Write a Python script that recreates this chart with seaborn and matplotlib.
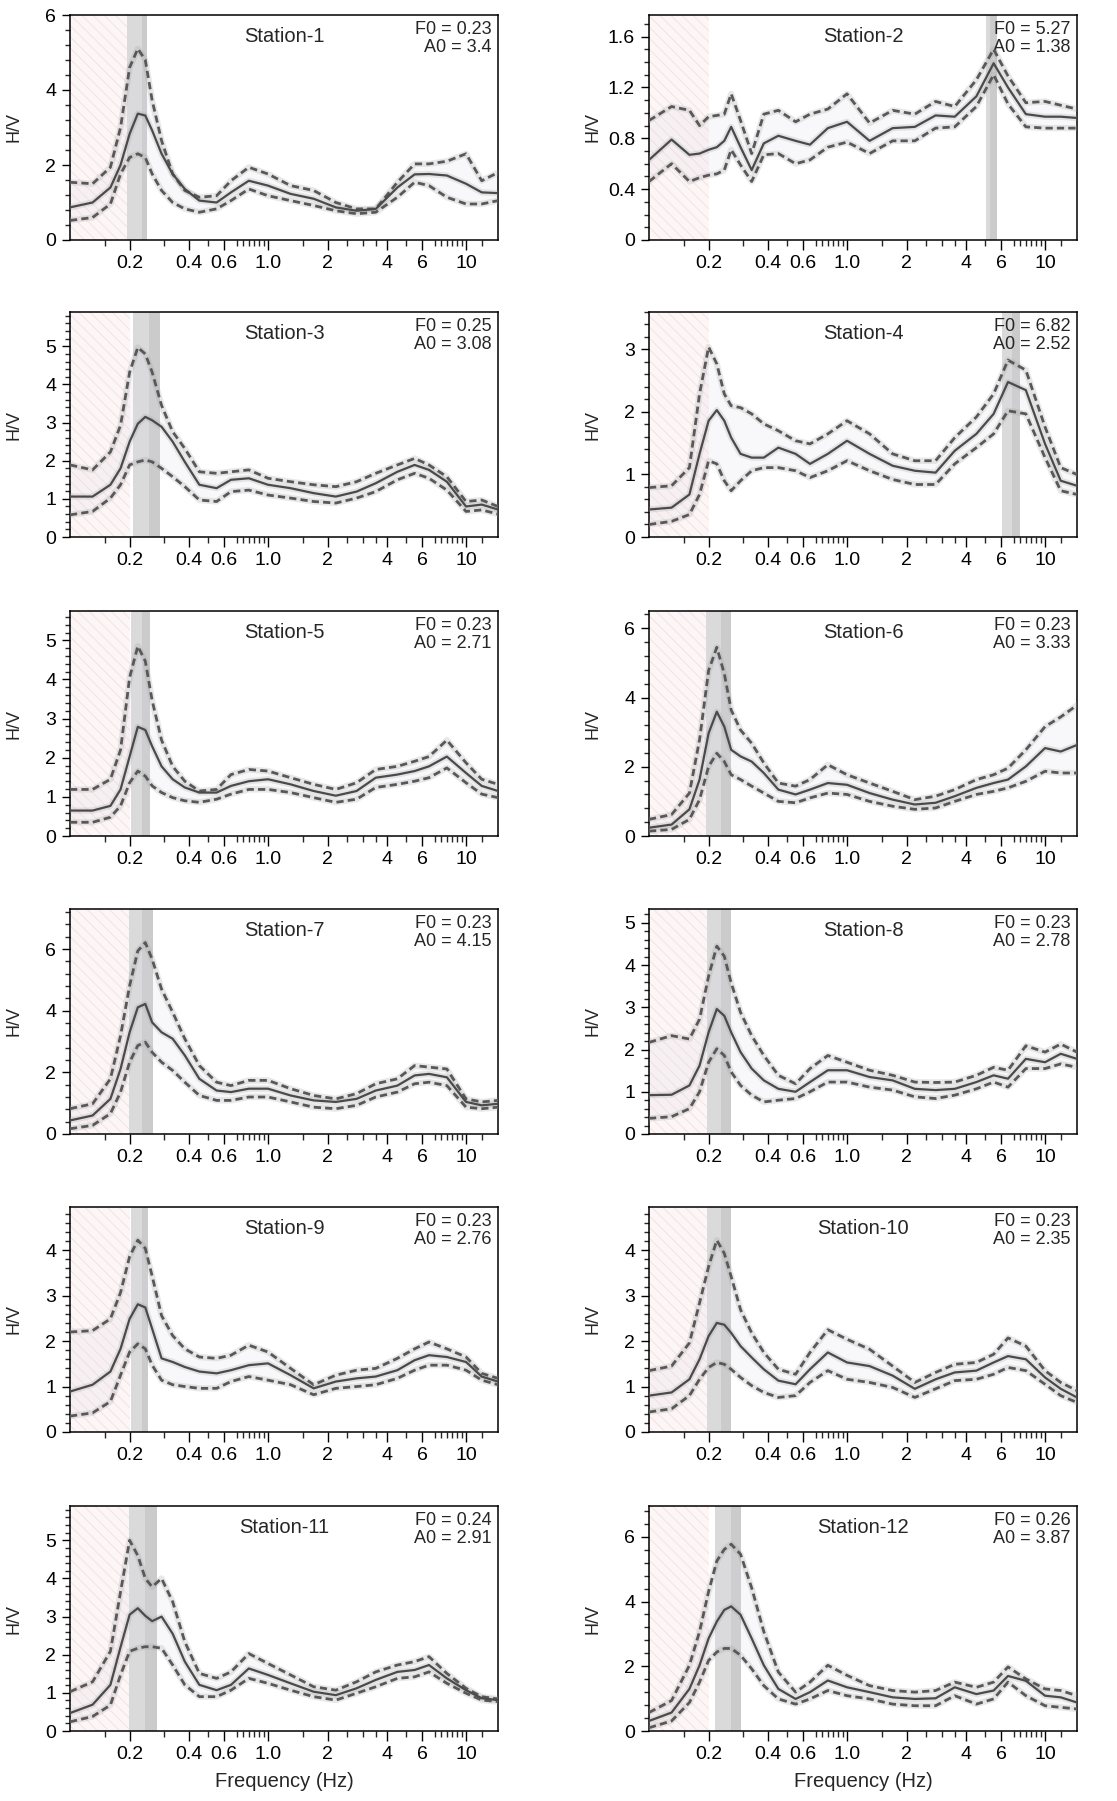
import matplotlib.pyplot as plt
from matplotlib.ticker import FixedLocator, FixedFormatter
import seaborn as sns

# frequency grid (Hz) shared by all stations
freq = [0.10, 0.13, 0.16, 0.18, 0.20, 0.22, 0.24, 0.26, 0.29, 0.33, 0.38, 0.45, 0.55, 0.65,
        0.80, 1.0, 1.3, 1.7, 2.2, 2.8, 3.5, 4.5, 5.5, 6.5, 8.0, 10.0, 12.0, 14.5]

# mean H/V curves and +/- std curves per station
s1_mean = [0.87, 1.0, 1.4, 2.0, 2.83, 3.37, 3.32, 2.92, 2.3, 1.76, 1.36, 1.05, 1.0, 1.27, 1.58, 1.45, 1.23, 1.1, 0.87, 0.78, 0.83, 1.4, 1.75, 1.76, 1.72, 1.5, 1.27, 1.25]
s1_up = [1.54, 1.5, 1.94, 3.0, 4.6, 5.1, 4.8, 3.72, 2.65, 1.76, 1.32, 1.14, 1.18, 1.58, 1.94, 1.76, 1.45, 1.32, 1.0, 0.83, 0.83, 1.54, 2.03, 2.03, 2.1, 2.3, 1.58, 1.8]
s1_lo = [0.52, 0.6, 0.96, 1.76, 2.2, 2.3, 2.2, 1.76, 1.32, 1.0, 0.83, 0.74, 0.83, 1.05, 1.36, 1.18, 1.05, 0.92, 0.78, 0.7, 0.74, 1.14, 1.54, 1.45, 1.14, 0.96, 0.96, 1.05]

s2_mean = [0.63, 0.79, 0.67, 0.68, 0.71, 0.73, 0.78, 0.89, 0.73, 0.55, 0.76, 0.82, 0.78, 0.75, 0.88, 0.93, 0.78, 0.88, 0.89, 0.98, 0.97, 1.13, 1.39, 1.2, 0.99, 0.97, 0.97, 0.96]
s2_up = [0.94, 1.05, 1.02, 0.9, 0.97, 0.98, 0.99, 1.15, 0.94, 0.68, 0.99, 1.02, 0.93, 0.99, 1.03, 1.15, 0.92, 1.02, 0.99, 1.09, 1.05, 1.26, 1.5, 1.29, 1.08, 1.09, 1.06, 1.03]
s2_lo = [0.46, 0.6, 0.46, 0.49, 0.51, 0.52, 0.55, 0.71, 0.59, 0.46, 0.67, 0.68, 0.6, 0.63, 0.73, 0.77, 0.68, 0.78, 0.78, 0.88, 0.89, 1.05, 1.3, 1.07, 0.89, 0.88, 0.88, 0.88]

s3_mean = [1.06, 1.06, 1.37, 1.8, 2.5, 2.97, 3.15, 3.06, 2.89, 2.5, 1.97, 1.37, 1.28, 1.5, 1.54, 1.37, 1.28, 1.15, 1.06, 1.19, 1.41, 1.71, 1.89, 1.76, 1.45, 0.8, 0.85, 0.72]
s3_up = [1.89, 1.76, 2.23, 2.93, 4.32, 4.97, 4.8, 4.32, 3.45, 2.76, 2.32, 1.71, 1.67, 1.71, 1.76, 1.54, 1.45, 1.37, 1.32, 1.45, 1.67, 1.89, 2.06, 1.89, 1.58, 0.93, 0.97, 0.8]
s3_lo = [0.58, 0.67, 1.02, 1.37, 1.89, 1.97, 2.02, 1.97, 1.8, 1.58, 1.32, 0.97, 0.93, 1.19, 1.23, 1.1, 1.02, 0.93, 0.89, 1.02, 1.19, 1.5, 1.67, 1.54, 1.23, 0.67, 0.71, 0.6]

s4_mean = [0.44, 0.47, 0.68, 1.33, 1.86, 2.03, 1.86, 1.59, 1.33, 1.27, 1.27, 1.43, 1.33, 1.17, 1.33, 1.54, 1.33, 1.14, 1.06, 1.03, 1.38, 1.65, 1.97, 2.48, 2.35, 1.49, 0.9, 0.82]
s4_up = [0.79, 0.82, 1.11, 2.29, 3.04, 2.77, 2.29, 2.1, 2.07, 1.97, 1.81, 1.7, 1.54, 1.49, 1.65, 1.86, 1.65, 1.33, 1.22, 1.22, 1.59, 1.92, 2.29, 2.83, 2.67, 1.76, 1.11, 1.0]
s4_lo = [0.2, 0.25, 0.36, 0.68, 1.22, 1.17, 0.9, 0.74, 0.9, 1.06, 1.11, 1.11, 1.06, 0.95, 1.06, 1.22, 1.06, 0.92, 0.84, 0.84, 1.17, 1.43, 1.65, 2.02, 1.97, 1.27, 0.74, 0.68]

s5_mean = [0.65, 0.65, 0.77, 1.19, 2.03, 2.79, 2.71, 2.29, 1.78, 1.45, 1.24, 1.11, 1.11, 1.28, 1.4, 1.45, 1.32, 1.15, 1.03, 1.15, 1.49, 1.57, 1.66, 1.78, 2.03, 1.61, 1.28, 1.15]
s5_up = [1.19, 1.19, 1.45, 2.2, 4.05, 4.85, 4.47, 3.46, 2.45, 1.78, 1.4, 1.15, 1.19, 1.57, 1.7, 1.66, 1.49, 1.32, 1.19, 1.36, 1.7, 1.78, 1.91, 2.03, 2.45, 1.87, 1.45, 1.32]
s5_lo = [0.35, 0.35, 0.48, 0.77, 1.36, 1.66, 1.53, 1.28, 1.11, 0.98, 0.9, 0.86, 0.94, 1.07, 1.19, 1.19, 1.11, 0.98, 0.86, 0.94, 1.24, 1.32, 1.4, 1.49, 1.74, 1.36, 1.07, 0.98]

s6_mean = [0.24, 0.33, 0.77, 1.63, 2.97, 3.59, 3.16, 2.49, 2.3, 2.15, 1.82, 1.34, 1.2, 1.34, 1.53, 1.48, 1.24, 1.05, 0.91, 0.96, 1.15, 1.39, 1.53, 1.63, 2.01, 2.54, 2.44, 2.63]
s6_up = [0.48, 0.62, 1.24, 2.78, 4.78, 5.45, 4.69, 3.64, 3.06, 2.68, 2.11, 1.53, 1.44, 1.63, 2.06, 1.77, 1.53, 1.29, 1.05, 1.15, 1.34, 1.63, 1.77, 1.96, 2.49, 3.16, 3.44, 3.78]
s6_lo = [0.14, 0.19, 0.48, 1.05, 2.01, 2.39, 2.15, 1.77, 1.63, 1.44, 1.24, 1.0, 0.96, 1.1, 1.24, 1.2, 1.0, 0.86, 0.77, 0.81, 1.0, 1.2, 1.29, 1.39, 1.58, 1.87, 1.82, 1.82]

s7_mean = [0.44, 0.6, 1.14, 2.11, 3.3, 4.11, 4.22, 3.62, 3.3, 3.09, 2.55, 1.79, 1.41, 1.36, 1.47, 1.47, 1.25, 1.09, 1.04, 1.14, 1.41, 1.57, 1.9, 1.95, 1.84, 1.04, 0.93, 0.98]
s7_up = [0.82, 0.98, 1.79, 3.19, 4.81, 5.94, 6.21, 5.67, 4.7, 3.95, 3.09, 2.22, 1.68, 1.57, 1.74, 1.74, 1.47, 1.25, 1.14, 1.31, 1.63, 1.79, 2.22, 2.17, 2.11, 1.14, 1.04, 1.09]
s7_lo = [0.17, 0.28, 0.66, 1.36, 2.33, 2.87, 2.98, 2.65, 2.33, 2.06, 1.68, 1.25, 1.09, 1.09, 1.2, 1.2, 1.04, 0.87, 0.82, 0.93, 1.2, 1.36, 1.63, 1.68, 1.57, 0.87, 0.82, 0.87]

s8_mean = [0.92, 0.93, 1.15, 1.62, 2.41, 2.96, 2.8, 2.41, 1.94, 1.55, 1.27, 1.07, 1.0, 1.23, 1.51, 1.51, 1.35, 1.27, 1.07, 1.04, 1.07, 1.23, 1.39, 1.31, 1.78, 1.7, 1.9, 1.78]
s8_up = [2.17, 2.33, 2.25, 2.72, 3.74, 4.45, 4.21, 3.58, 2.88, 2.33, 1.86, 1.39, 1.19, 1.55, 1.86, 1.7, 1.51, 1.39, 1.23, 1.22, 1.23, 1.39, 1.58, 1.51, 2.09, 1.94, 2.13, 1.94]
s8_lo = [0.37, 0.41, 0.6, 1.0, 1.7, 2.02, 1.86, 1.47, 1.15, 0.92, 0.76, 0.8, 0.84, 1.0, 1.23, 1.23, 1.11, 1.04, 0.88, 0.84, 0.92, 1.07, 1.23, 1.11, 1.55, 1.55, 1.66, 1.58]

s9_mean = [0.89, 1.04, 1.33, 1.83, 2.49, 2.81, 2.74, 2.27, 1.62, 1.54, 1.43, 1.33, 1.29, 1.36, 1.47, 1.51, 1.25, 0.96, 1.11, 1.18, 1.22, 1.36, 1.58, 1.69, 1.65, 1.54, 1.22, 1.11]
s9_up = [2.2, 2.23, 2.49, 3.07, 3.86, 4.22, 4.04, 3.43, 2.56, 2.12, 1.83, 1.65, 1.62, 1.69, 1.91, 1.76, 1.4, 1.04, 1.25, 1.36, 1.4, 1.62, 1.83, 1.98, 1.83, 1.65, 1.29, 1.18]
s9_lo = [0.35, 0.42, 0.67, 1.25, 1.76, 1.94, 1.83, 1.47, 1.14, 1.04, 1.0, 0.96, 0.96, 1.11, 1.22, 1.14, 1.04, 0.82, 0.96, 1.0, 1.04, 1.18, 1.36, 1.47, 1.47, 1.36, 1.14, 1.04]

s10_mean = [0.8, 0.87, 1.16, 1.6, 2.11, 2.4, 2.36, 2.18, 1.89, 1.64, 1.38, 1.13, 1.05, 1.38, 1.75, 1.53, 1.45, 1.24, 0.95, 1.16, 1.31, 1.35, 1.53, 1.67, 1.6, 1.2, 0.95, 0.76]
s10_up = [1.35, 1.45, 1.96, 2.84, 3.64, 4.22, 3.93, 3.42, 2.69, 2.18, 1.75, 1.38, 1.27, 1.75, 2.25, 2.04, 1.82, 1.45, 1.09, 1.31, 1.49, 1.53, 1.71, 2.07, 1.89, 1.35, 1.09, 0.91]
s10_lo = [0.44, 0.51, 0.8, 1.16, 1.42, 1.53, 1.49, 1.38, 1.2, 1.02, 0.87, 0.76, 0.8, 1.09, 1.35, 1.16, 1.09, 0.98, 0.76, 0.95, 1.13, 1.16, 1.27, 1.42, 1.35, 1.05, 0.8, 0.65]

s11_mean = [0.47, 0.69, 1.21, 2.2, 3.05, 3.22, 3.02, 2.88, 3.0, 2.55, 1.82, 1.21, 1.07, 1.21, 1.64, 1.47, 1.25, 1.03, 0.94, 1.12, 1.34, 1.55, 1.6, 1.73, 1.38, 1.07, 0.86, 0.81]
s11_up = [1.03, 1.29, 2.09, 3.65, 5.0, 4.6, 4.0, 3.78, 4.0, 3.39, 2.34, 1.51, 1.38, 1.55, 2.03, 1.77, 1.47, 1.16, 1.07, 1.29, 1.55, 1.73, 1.82, 1.95, 1.51, 1.12, 0.9, 0.84]
s11_lo = [0.24, 0.38, 0.68, 1.47, 2.09, 2.17, 2.21, 2.21, 2.17, 1.73, 1.21, 0.9, 0.9, 1.07, 1.38, 1.25, 1.07, 0.9, 0.81, 0.99, 1.16, 1.38, 1.42, 1.55, 1.25, 0.99, 0.81, 0.77]

s12_mean = [0.31, 0.57, 1.3, 2.03, 2.86, 3.38, 3.74, 3.85, 3.59, 2.86, 2.03, 1.3, 0.99, 1.2, 1.56, 1.35, 1.2, 1.04, 0.99, 1.01, 1.35, 1.14, 1.25, 1.7, 1.55, 1.09, 1.04, 0.88]
s12_up = [0.57, 0.94, 2.03, 3.07, 4.31, 5.25, 5.61, 5.77, 5.46, 4.42, 3.07, 1.82, 1.2, 1.51, 2.03, 1.72, 1.4, 1.25, 1.2, 1.25, 1.51, 1.35, 1.51, 1.98, 1.61, 1.3, 1.25, 1.09]
s12_lo = [0.1, 0.31, 0.88, 1.51, 2.18, 2.44, 2.55, 2.55, 2.34, 1.92, 1.4, 0.99, 0.83, 0.99, 1.25, 1.09, 0.99, 0.83, 0.78, 0.78, 1.09, 0.83, 0.99, 1.51, 1.09, 0.78, 0.73, 0.68]

# peak frequency / amplitude labels and f0 +/- std band
f0_vals = [0.23, 5.27, 0.25, 6.82, 0.23, 0.23, 0.23, 0.23, 0.23, 0.23, 0.24, 0.26]
a0_vals = ['3.4', '1.38', '3.08', '2.52', '2.71', '3.33', '4.15', '2.78', '2.76', '2.35', '2.91', '3.87']
band_lo = [0.195, 5.04, 0.209, 6.08, 0.204, 0.193, 0.198, 0.196, 0.204, 0.196, 0.198, 0.215]
band_hi = [0.246, 5.72, 0.284, 7.50, 0.253, 0.259, 0.261, 0.259, 0.247, 0.259, 0.276, 0.292]

means = [s1_mean, s2_mean, s3_mean, s4_mean, s5_mean, s6_mean, s7_mean, s8_mean, s9_mean, s10_mean, s11_mean, s12_mean]
uppers = [s1_up, s2_up, s3_up, s4_up, s5_up, s6_up, s7_up, s8_up, s9_up, s10_up, s11_up, s12_up]
lowers = [s1_lo, s2_lo, s3_lo, s4_lo, s5_lo, s6_lo, s7_lo, s8_lo, s9_lo, s10_lo, s11_lo, s12_lo]

# y axis setup per station: top, major step, minor step
y_top = [6.0, 1.77, 5.9, 3.6, 5.75, 6.5, 7.3, 5.33, 4.95, 4.95, 5.9, 6.95]
y_major = [2, 0.4, 1, 1, 1, 2, 2, 1, 1, 1, 1, 2]
y_minor = [0.4, 0.1, 0.2, 0.2, 0.2, 0.4, 0.4, 0.2, 0.2, 0.2, 0.2, 0.4]

x_major = [0.2, 0.4, 0.6, 1.0, 2, 4, 6, 10]
x_labels = ['0.2', '0.4', '0.6', '1.0', '2', '4', '6', '10']
x_minor = [0.15, 0.3, 0.5, 0.7, 0.75, 0.8, 0.85, 0.9, 0.95, 1.5, 2.5, 3, 3.5, 5,
           7, 7.5, 8, 8.5, 9, 9.5, 12]

sns.set_style('ticks')
plt.rcParams['font.family'] = ['Liberation Sans', 'DejaVu Sans']
plt.rcParams['hatch.linewidth'] = 0.7

fig = plt.figure(figsize=(11.17, 18.01), dpi=100)
W, H = 1117.0, 1801.0
col_left = [70, 649]
row_top = [15, 312, 611, 909, 1207, 1506]
ax_w, ax_h = 428, 225

for i in range(12):
    r, c = divmod(i, 2)
    ax = fig.add_axes([col_left[c] / W, 1 - (row_top[r] + ax_h) / H, ax_w / W, ax_h / H])

    # low-frequency region below validity limit
    ax.axvspan(0.1, 0.2, facecolor='#fdf6f6', edgecolor='#f4e2e2', hatch='\\\\\\', lw=0, zorder=0)
    # f0 +/- std band
    ax.axvspan(band_lo[i], band_hi[i], color='#dadada', lw=0, zorder=1)
    ax.axvspan(f0_vals[i], band_hi[i], color='#c2c2c2', alpha=0.6, lw=0, zorder=1)

    # soft haze around the curves
    ax.fill_between(freq, lowers[i], uppers[i], color='#dcdae6', alpha=0.18, lw=0, zorder=2)
    for arr in (uppers[i], lowers[i], means[i]):
        sns.lineplot(x=freq, y=arr, ax=ax, color='#9a9a9a', lw=4.5, alpha=0.22, zorder=3)

    sns.lineplot(x=freq, y=uppers[i], ax=ax, color='#585858', lw=2.0, linestyle=(0, (2.6, 1.5)), zorder=4)
    sns.lineplot(x=freq, y=lowers[i], ax=ax, color='#585858', lw=2.0, linestyle=(0, (2.6, 1.5)), zorder=4)
    sns.lineplot(x=freq, y=means[i], ax=ax, color='#4a4a4a', lw=1.6, zorder=5)

    ax.set_xscale('log')
    ax.set_xlim(0.1, 14.5)
    ax.set_ylim(0, y_top[i])
    ax.xaxis.set_major_locator(FixedLocator(x_major))
    ax.xaxis.set_major_formatter(FixedFormatter(x_labels))
    ax.xaxis.set_minor_locator(FixedLocator(x_minor))
    ax.xaxis.set_minor_formatter(FixedFormatter([]))

    step = y_major[i]
    yt = [round(k * step, 2) for k in range(int(y_top[i] / step + 1e-6) + 1)]
    ax.set_yticks(yt)
    if step < 1:
        ax.set_yticklabels(['0' if v == 0 else f'{v:.1f}' for v in yt])
    else:
        ax.set_yticklabels([f'{v:g}' for v in yt])
    mstep = y_minor[i]
    ym = [round(k * mstep, 2) for k in range(int(y_top[i] / mstep + 1e-6) + 1)]
    ax.yaxis.set_minor_locator(FixedLocator(ym))

    ax.tick_params(which='major', direction='out', length=7, width=1, labelsize=14, pad=4, colors='black')
    ax.tick_params(which='minor', direction='out', length=4.5, width=1)
    ax.tick_params(axis='y', which='major', length=6)
    ax.tick_params(axis='y', which='minor', length=3.5)
    for sp in ax.spines.values():
        sp.set_visible(True)
        sp.set_linewidth(1.1)
        sp.set_color('black')

    ax.set_xlabel('Frequency (Hz)' if r == 5 else '', fontsize=14.5, labelpad=6)
    ax.set_ylabel('H/V', fontsize=13, labelpad=8)
    ax.yaxis.set_label_coords(-0.112, 0.5)

    ax.text(0.5, 0.905, f'Station-{i + 1}', transform=ax.transAxes, ha='center', va='center', fontsize=14.5)
    ax.text(0.985, 0.975, f'F0 = {f0_vals[i]:.2f}\nA0 = {a0_vals[i]}', transform=ax.transAxes,
            ha='right', va='top', fontsize=13, linespacing=1.1)

fig.savefig('out.png', dpi=100)
